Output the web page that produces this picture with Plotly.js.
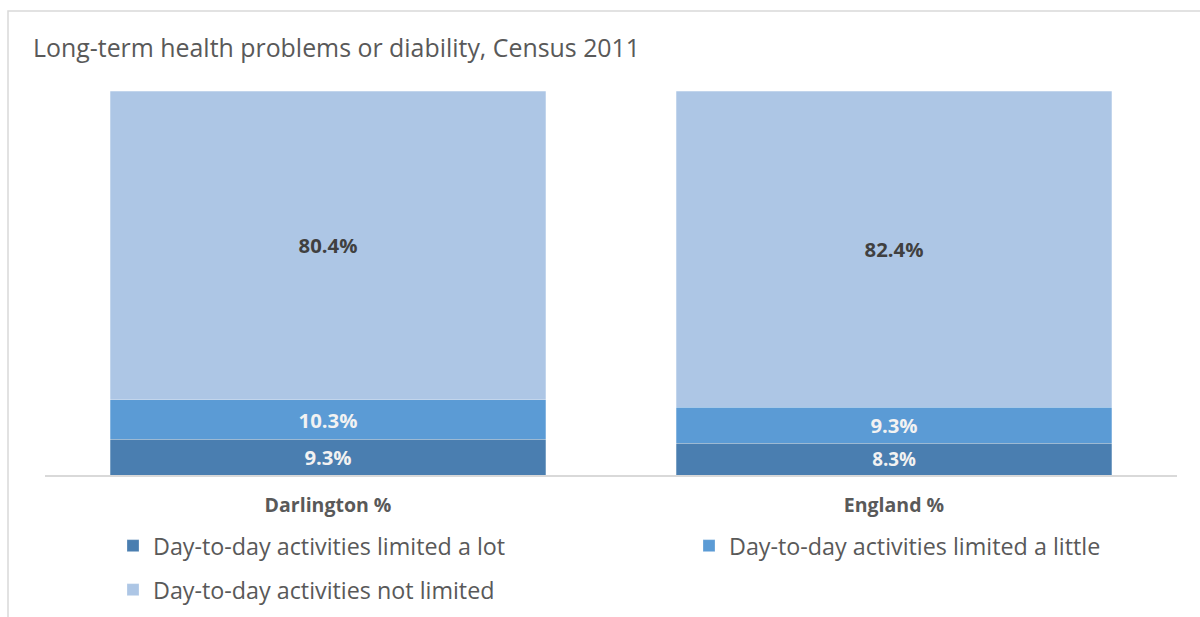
<!DOCTYPE html>
<html>
<head>
<meta charset="utf-8">
<script src="https://cdn.plot.ly/plotly-3.0.1.min.js"></script>
<style>html,body{margin:0;padding:0;background:#fff;}#chart{width:1200px;height:617px;}</style>
</head>
<body>
<div id="chart"></div>
<script>
const categories = ["Darlington %", "England %"];
const limitedLot = [9.3, 8.3];
const limitedLittle = [10.3, 9.3];
const notLimited = [80.4, 82.4];
const seriesNames = ["Day-to-day activities limited a lot", "Day-to-day activities limited a little", "Day-to-day activities not limited"];
const chartTitle = "Long-term health problems or diability, Census 2011";

const FONT = "Open Sans, sans-serif";
const lineStyle = {color: 'rgba(255,255,255,0.35)', width: 0.75};

function mk(vals, name, color, txtColor, legendId) {
  return {
    type: 'bar', x: categories, y: vals, name: name,
    marker: {color: color, line: lineStyle},
    texttemplate: '%{y:.1f}%', textposition: 'inside', insidetextanchor: 'middle',
    textangle: 0,
    textfont: {family: FONT, size: 20.3, color: txtColor, weight: 'bold'},
    hoverinfo: 'skip', legend: legendId
  };
}

const data = [
  mk(limitedLot, seriesNames[0], '#4a7eb0', '#f2f2f2', 'legend'),
  mk(limitedLittle, seriesNames[1], '#5b9bd5', '#f2f2f2', 'legend2'),
  mk(notLimited, seriesNames[2], '#adc6e5', '#404040', 'legend3')
];

const legFont = {family: FONT, size: 23.3, color: '#595959'};
function leg(xpx, ypx) {
  return {xref: 'container', yref: 'container', x: xpx/1200, y: 1 - ypx/617,
    xanchor: 'left', yanchor: 'middle', font: legFont, bgcolor: 'rgba(0,0,0,0)',
    orientation: 'h', itemclick: false};
}

const layout = {
  width: 1200, height: 617,
  margin: {l: 45, r: 23, t: 91, b: 142},
  paper_bgcolor: '#fff', plot_bgcolor: '#fff',
  barmode: 'stack', bargap: 0.231,
  uniformtext: {mode: false},
  title: {text: chartTitle, xref: 'container', yref: 'container', x: 33/1200, xanchor: 'left',
    y: 1 - 48/617, yanchor: 'middle', font: {family: FONT, size: 24.9, color: '#595959'}},
  xaxis: {type: 'category', showline: true, linecolor: '#d9d9d9', linewidth: 1.5,
    ticks: '', ticklabelstandoff: 12,
    tickfont: {family: FONT, size: 19.5, color: '#595959', weight: 'bold'}, fixedrange: true},
  yaxis: {range: [0, 100], visible: false, showgrid: false, zeroline: false, fixedrange: true},
  showlegend: true,
  legend: leg(113, 546),
  legend2: leg(689, 546),
  legend3: leg(113, 590),
  shapes: [{type: 'path', xref: 'paper', yref: 'paper',
    path: 'M' + ((8-45)/1132) + ',' + ((475-640)/384) + ' L' + ((8-45)/1132) + ',' + ((475-11)/384) + ' L' + ((1220-45)/1132) + ',' + ((475-11)/384),
    line: {color: '#d9d9d9', width: 1.5}}]
};

Plotly.newPlot('chart', data, layout, {displayModeBar: false, staticPlot: true});
</script>
</body>
</html>
